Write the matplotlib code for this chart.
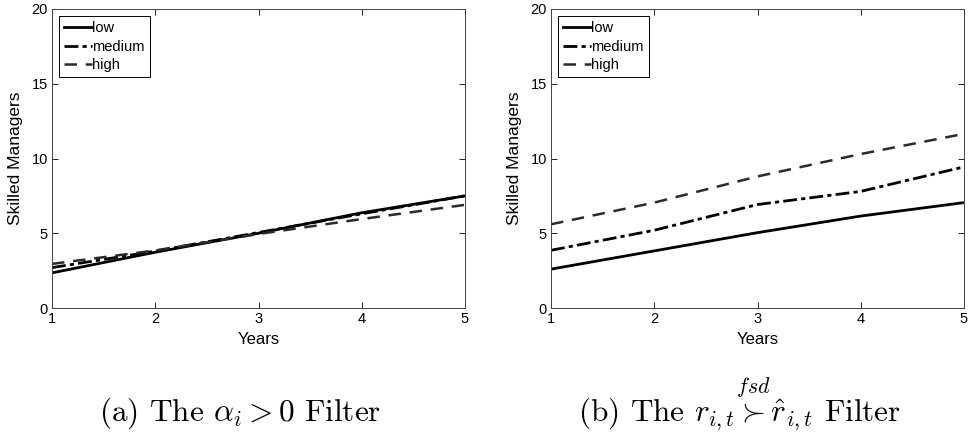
import numpy as np
import matplotlib.pyplot as plt

plt.rcParams['font.family'] = ['Liberation Sans', 'DejaVu Sans']
plt.rcParams['mathtext.fontset'] = 'cm'

years = [1, 2, 3, 4, 5]

# (a) alpha_i > 0 filter
a_low = [2.35, 3.73, 5.0, 6.37, 7.5]
a_medium = [2.7, 3.8, 5.05, 6.3, 7.5]
a_high = [2.95, 3.85, 4.95, 5.95, 6.9]

# (b) fsd filter
b_low = [2.6, 3.82, 5.04, 6.15, 7.05]
b_medium = [3.86, 5.2, 6.92, 7.8, 9.44]
b_high = [5.6, 7.05, 8.8, 10.3, 11.65]

captions = [r'(a) The $\alpha_i > 0$ Filter',
            r'(b) The $r_{i,t} \overset{fsd}{\succ} \hat{r}_{i,t}$ Filter']

fig = plt.figure(figsize=(9.69, 4.38), dpi=100)
ax1 = fig.add_axes([52/969, 1-308/438, 413/969, 299/438])
ax2 = fig.add_axes([551/969, 1-308/438, 413/969, 299/438])

for ax, lo, me, hi in [(ax1, a_low, a_medium, a_high), (ax2, b_low, b_medium, b_high)]:
    ax.plot(years, lo, '-', color='black', lw=2.0, label='low')
    ax.plot(years, me, '-.', color='black', lw=2.0, label='medium', dashes=(5, 1.5, 1.5, 1.5))
    ax.plot(years, hi, '--', color='#2a2a2a', lw=1.8, label='high', dashes=(5, 3.5))
    ax.set_xlim(1, 5)
    ax.set_ylim(0, 20)
    ax.set_xticks(years)
    ax.set_yticks([0, 5, 10, 15, 20])
    ax.tick_params(direction='in', top=True, right=True, labelsize=10.5, length=4, width=0.6,
                   pad=3)
    for s in ax.spines.values():
        s.set_linewidth(0.7)
        s.set_color('#444444')
    ax.set_xlabel('Years', fontsize=12, labelpad=4)
    ax.set_ylabel('Skilled Managers', fontsize=12.5, labelpad=6)
    leg = ax.legend(loc='upper left', fontsize=10.5, handlelength=1.9, handletextpad=0.0,
                    borderpad=0.35, labelspacing=0.3, borderaxespad=0.5, fancybox=False,
                    edgecolor='black', framealpha=1)
    leg.get_frame().set_linewidth(0.7)

fig.text(240/969, 1-421/438, captions[0], ha='center', va='baseline', fontsize=22.5,
         family='cmr10')
fig.text(740/969, 1-421/438, captions[1], ha='center', va='baseline', fontsize=22.5,
         family='cmr10')

fig.savefig('out.png', dpi=100)
